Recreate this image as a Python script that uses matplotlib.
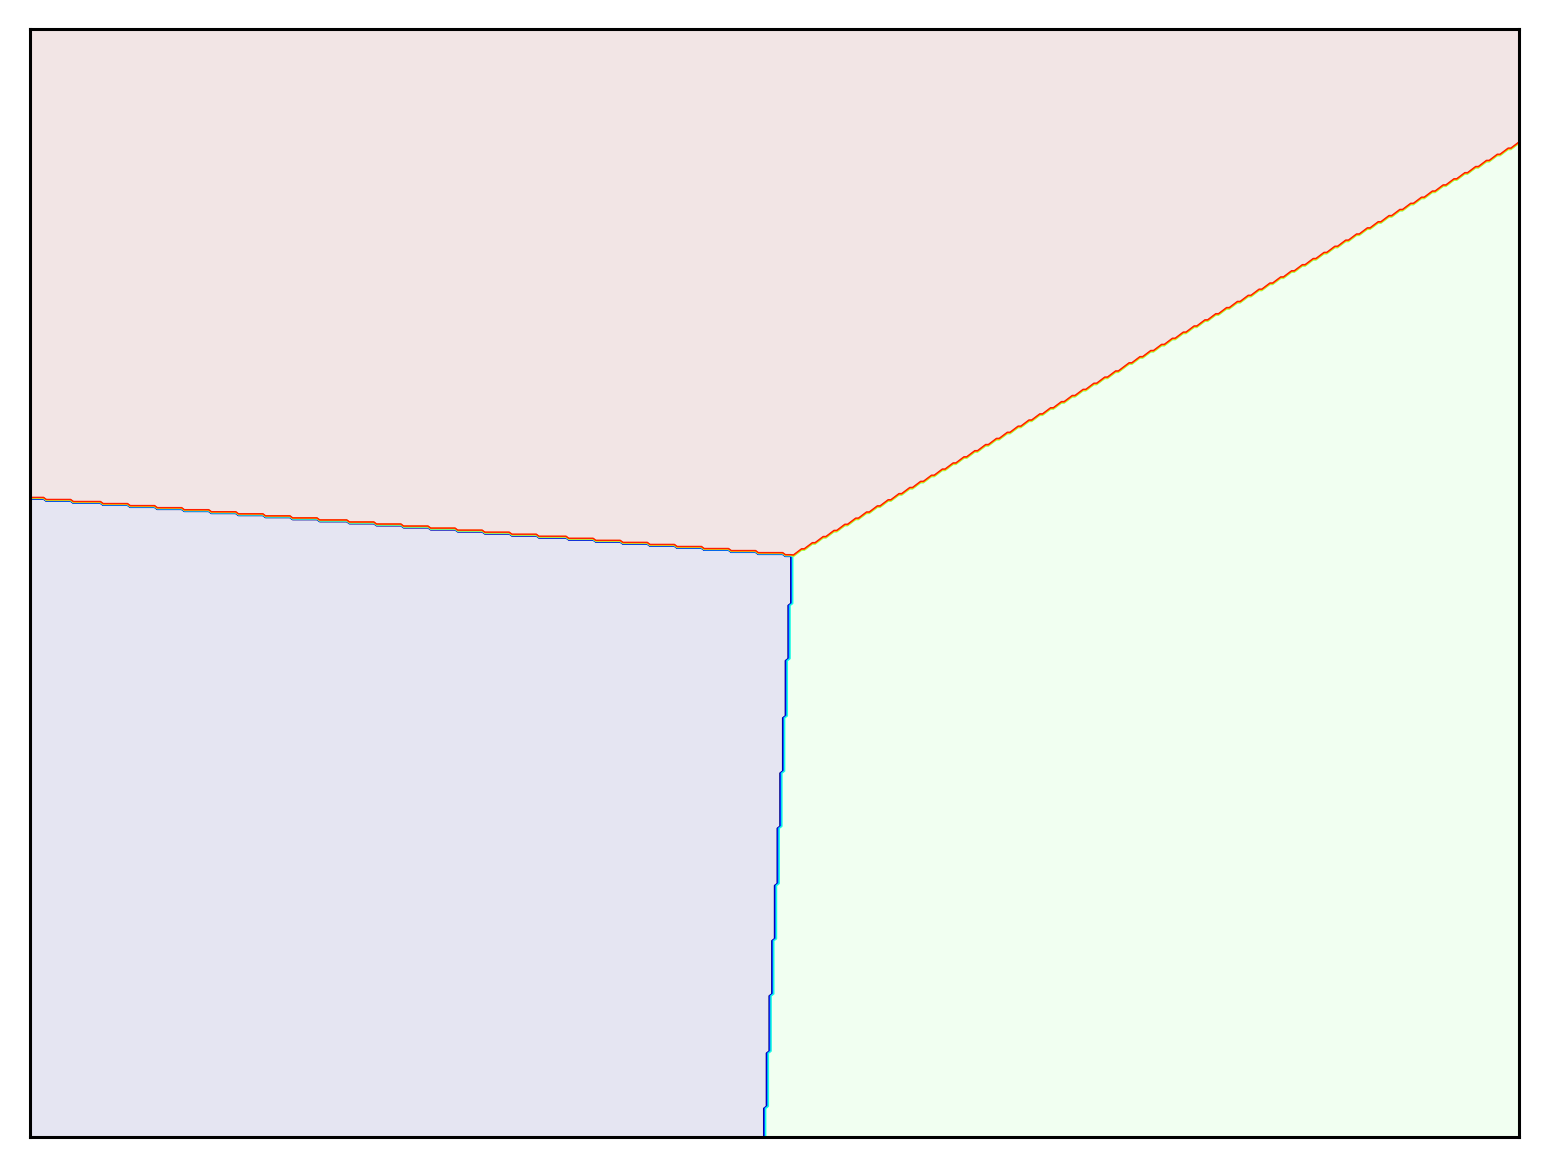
import numpy as np
import matplotlib
matplotlib.use("Agg")
import matplotlib.pyplot as plt
from matplotlib import cm

# decision boundary rays (axes units, 0..1)
junction = [0.5125, 0.5253]
left_end = [0.0, 0.5767]     # boundary class 0 / class 2
bottom_end = [0.4936, 0.0]   # boundary class 0 / class 1
right_end = [1.0, 0.8971]    # boundary class 1 / class 2

# grid resolution of the original prediction mesh
nx, ny = 551, 543


def ray_angle(p):
    a = np.degrees(np.arctan2(p[1] - junction[1], p[0] - junction[0]))
    return a % 360


def predict(xx, yy):
    a = np.degrees(np.arctan2(yy - junction[1], xx - junction[0])) % 360
    aR, aL, aB = ray_angle(right_end), ray_angle(left_end), ray_angle(bottom_end)
    Z = np.ones(xx.shape)                      # right region
    Z[(a >= aR) & (a < aL)] = 2                # top region
    Z[(a >= aL) & (a < aB)] = 0                # bottom-left region
    return Z


xx, yy = np.meshgrid(np.linspace(0, 1, nx), np.linspace(0, 1, ny))
Z = predict(xx, yy)

fig = plt.figure(figsize=(15.48, 11.68), dpi=100)
ax = fig.add_axes([30 / 1548, 31 / 1168, 1489 / 1548, 1108 / 1168])
ax.contourf(xx, yy, Z, levels=[-0.5, 0.5, 1.5, 2.5], cmap=cm.jet,
            vmin=0, vmax=2, alpha=0.1)
ax.contour(xx, yy, Z, cmap=cm.jet, linewidths=1.0)
ax.set_xticks(())
ax.set_yticks(())
for s in ax.spines.values():
    s.set_linewidth(2.2)

fig.savefig("out.png", dpi=100)
